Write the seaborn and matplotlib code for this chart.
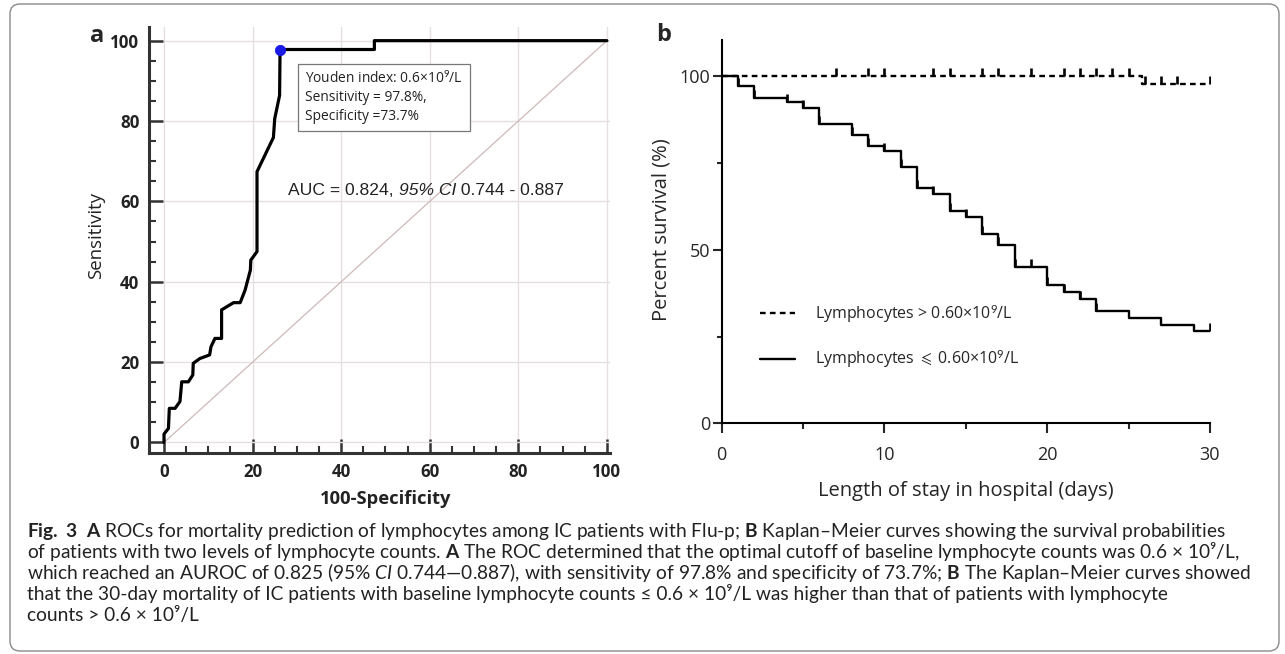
import numpy as np
import pandas as pd
import matplotlib
matplotlib.use("Agg")
import matplotlib.pyplot as plt
import seaborn as sns
from matplotlib.patches import FancyBboxPatch
from matplotlib.transforms import IdentityTransform
from matplotlib.ticker import MultipleLocator

# ---------------- data ----------------
# panel a: ROC curve, x = 100 - specificity, y = sensitivity
roc_fpr = [0, 0, 1.0, 1.2, 2.5, 3.6, 4.0, 5.5, 6.5, 6.6, 8.1, 10.3, 10.6, 11.5,
           13.0, 13.0, 14.5, 15.7, 17.2, 18.3, 19.5, 19.6, 21.0, 21.0, 24.7,
           25.0, 26.1, 26.2, 47.5, 47.5, 100]
roc_tpr = [0, 2.1, 3.5, 8.5, 8.5, 10.2, 15.1, 15.1, 16.8, 19.7, 20.9, 21.8, 23.8,
           25.9, 25.9, 33.0, 34.0, 34.8, 34.8, 37.9, 42.9, 45.4, 47.5, 67.4, 75.9,
           80.6, 86.4, 97.8, 97.8, 100, 100]
youden_fpr = [26.2]
youden_tpr = [97.8]

# panel b: Kaplan-Meier steps (days, % survival)
high_time = [0, 25.8, 30]
high_surv = [100, 97.8, 97.8]
high_censor = [7, 9, 10, 13, 14, 16, 17, 19, 21, 22, 23, 24, 25, 26, 27, 28, 30]

low_time = [0, 1, 2, 4, 5, 6, 8, 9, 10, 11, 12, 13, 14, 15, 16, 17, 18, 20, 21,
            22, 23, 25, 27, 29, 30]
low_surv = [100, 97.2, 93.9, 92.6, 91.0, 86.2, 83.2, 79.9, 78.4, 73.9, 67.8, 66.0,
            61.1, 59.5, 54.7, 51.5, 45.0, 39.8, 37.8, 35.9, 32.3, 30.4, 28.4, 26.6,
            26.6]
low_censor = [1, 2, 4, 5, 6, 8, 9, 10, 11, 12, 13, 14, 15, 16, 17, 18, 19, 20, 21,
              22, 23, 30]

label_high = "Lymphocytes > 0.60×10$^{9}$/L"
label_low = r"Lymphocytes $\leqslant$ 0.60×10$^{9}$/L"

caption_lines = [
    r"$\mathbf{Fig.\ 3}$  $\mathbf{A}$ ROCs for mortality prediction of lymphocytes among IC patients with Flu-p; $\mathbf{B}$ Kaplan–Meier curves showing the survival probabilities",
    r"of patients with two levels of lymphocyte counts. $\mathbf{A}$ The ROC determined that the optimal cutoff of baseline lymphocyte counts was 0.6 × 10⁹/L,",
    r"which reached an AUROC of 0.825 ($\mathit{95\%\ CI}$ 0.744—0.887), with sensitivity of 97.8% and specificity of 73.7%; $\mathbf{B}$ The Kaplan–Meier curves showed",
    "that the 30-day mortality of IC patients with baseline lymphocyte counts ≤ 0.6 × 10⁹/L was higher than that of patients with lymphocyte",
    "counts > 0.6 × 10⁹/L",
]

# ---------------- style ----------------
sns.set_style("white")
plt.rcParams["font.family"] = ["Open Sans", "DejaVu Sans"]
plt.rcParams["mathtext.fontset"] = "custom"
plt.rcParams["mathtext.rm"] = "Lato"
plt.rcParams["mathtext.bf"] = "Lato:bold"
plt.rcParams["mathtext.it"] = "Lato:italic"
plt.rcParams["mathtext.fallback"] = "stixsans"

fig = plt.figure(figsize=(12.85, 6.54), dpi=100)
fig.patch.set_facecolor("white")

# ================= panel a =================
ax1 = fig.add_axes([0.11595, 0.30688, 0.35875, 0.65183])
dark = "#333333"
ax1.plot([0, 100], [0, 100], color="#cdb9b9", lw=0.9, zorder=1)
roc_df = pd.DataFrame({"fpr": roc_fpr, "tpr": roc_tpr})
sns.lineplot(data=roc_df, x="fpr", y="tpr", sort=False, estimator=None,
             color="black", lw=2.3, ax=ax1, zorder=3)
sns.scatterplot(x=youden_fpr, y=youden_tpr, color="#1a1ae6", s=55, edgecolor="#1a1ae6",
                ax=ax1, zorder=4)

ax1.set_xlim(-3.39, 100.7)
ax1.set_ylim(-2.69, 103.4)
ax1.xaxis.set_major_locator(MultipleLocator(20))
ax1.xaxis.set_minor_locator(MultipleLocator(5))
ax1.yaxis.set_major_locator(MultipleLocator(20))
ax1.yaxis.set_minor_locator(MultipleLocator(5))
ax1.grid(True, which="major", color="#e6dfdf", lw=1.0)
ax1.set_axisbelow(True)
for s in ["top", "right"]:
    ax1.spines[s].set_visible(False)
for s in ["left", "bottom"]:
    ax1.spines[s].set_color(dark)
    ax1.spines[s].set_linewidth(2.2)
ax1.tick_params(which="major", direction="in", length=10, width=1.8, color=dark,
                left=True, bottom=True, pad=7)
ax1.tick_params(which="minor", direction="in", length=5, width=1.5, color=dark,
                left=True, bottom=True)
for lab in ax1.get_xticklabels() + ax1.get_yticklabels():
    lab.set_fontweight("bold")
    lab.set_fontsize(12.2)
    lab.set_color("#222222")
ax1.set_xlabel("100-Specificity", fontsize=13.2, fontweight="bold", color="#222222")
ax1.set_ylabel("Sensitivity", fontsize=13.4, color="#222222")
ax1.xaxis.set_label_coords(0.514, -0.087)
ax1.yaxis.set_label_coords(-0.095, 0.51)

ax1.text(31.8, 92.4, "Youden index: 0.6×10$^{9}$/L\nSensitivity = 97.8%,\nSpecificity =73.7%",
         ha="left", va="top", fontsize=9.9, linespacing=1.3, color="#222222",
         bbox=dict(boxstyle="square,pad=0.5", fc="white", ec="#777777", lw=0.9),
         zorder=5)

auc_font = ["Liberation Sans", "DejaVu Sans"]
t1 = ax1.text(28.0, 62.6, "AUC = 0.824, ", ha="left", va="center", fontsize=12.6,
              family=auc_font, color="#222222")
t2 = ax1.annotate("95% CI", xy=(1, 0), xycoords=t1, ha="left", va="bottom",
                  fontsize=12.6, family=auc_font, style="italic", color="#222222")
t3 = ax1.annotate(" 0.744 - 0.887", xy=(1, 0), xycoords=t2, ha="left", va="bottom",
                  fontsize=12.6, family=auc_font, color="#222222")

fig.text(97 / 1285, 1 - 36 / 654, "a", fontsize=17, fontweight="bold",
         ha="center", va="center")

# ================= panel b =================
ax2 = fig.add_axes([0.56163, 0.35245, 0.38000, 0.58639])
km_high = pd.DataFrame({"t": high_time, "s": high_surv})
km_low = pd.DataFrame({"t": low_time, "s": low_surv})
sns.lineplot(data=km_high, x="t", y="s", drawstyle="steps-post", estimator=None,
             color="black", lw=1.7, dashes=False, ax=ax2, label=label_high,
             linestyle=(0, (2.4, 1.8)))
sns.lineplot(data=km_low, x="t", y="s", drawstyle="steps-post", estimator=None,
             color="black", lw=1.7, ax=ax2, label=label_low)


def surv_at(times, surv, pts):
    idx = np.searchsorted(times, pts, side="right") - 1
    return np.asarray(surv)[idx]


ax2.plot(high_censor, surv_at(high_time, high_surv, high_censor), linestyle="none",
         marker=2, markersize=5.5, markeredgewidth=1.9, color="black")
ax2.plot(low_censor, surv_at(low_time, low_surv, low_censor), linestyle="none",
         marker=2, markersize=5.5, markeredgewidth=1.9, color="black")

ax2.set_xlim(0, 30)
ax2.set_ylim(0, 110.5)
ax2.set_xticks([0, 10, 20, 30])
ax2.set_yticks([0, 50, 100])
ax2.xaxis.set_minor_locator(MultipleLocator(5))
ax2.yaxis.set_minor_locator(MultipleLocator(25))
for s in ["top", "right"]:
    ax2.spines[s].set_visible(False)
for s in ["left", "bottom"]:
    ax2.spines[s].set_color("black")
    ax2.spines[s].set_linewidth(1.5)
ax2.tick_params(axis="y", which="major", direction="out", length=6.5, width=1.5,
                left=True, pad=1.5, labelsize=13)
ax2.tick_params(axis="y", which="minor", direction="out", length=3.5, width=1.5, left=True)
ax2.tick_params(axis="x", which="major", direction="out", length=7, width=1.5,
                bottom=True, pad=9, labelsize=13)
ax2.tick_params(axis="x", which="minor", direction="out", length=4, width=1.5, bottom=True)
ax2.set_xlabel("Length of stay in hospital (days)", fontsize=14.5)
ax2.set_ylabel("Percent survival (%)", fontsize=14.5)
ax2.xaxis.set_label_coords(0.5, -0.15)
ax2.yaxis.set_label_coords(-0.102, 0.505)

ax2.legend(loc="upper left", bbox_to_anchor=(0.078, 0.313), frameon=False,
           fontsize=11.5, handlelength=2.2, handletextpad=1.25, labelspacing=1.45,
           borderpad=0, borderaxespad=0)

fig.text(664 / 1285, 1 - 35 / 654, "b", fontsize=17, fontweight="bold",
         ha="center", va="center")

# ================= caption: one text per line, fixed baselines =================
cap_font = ["Lato", "DejaVu Sans"]
renderer = fig.canvas.get_renderer()
probe = fig.text(0, 0, caption_lines[0], fontsize=12, family=cap_font)
cap_size = 12 * 1200 / probe.get_window_extent(renderer).width
probe.remove()

baselines = [537, 558, 579, 600, 621]
for line, b in zip(caption_lines, baselines):
    fig.text(27 / 1285, 1 - b / 654, line, fontsize=cap_size, family=cap_font,
             ha="left", va="baseline", color="#222222")

# rounded frame around the whole figure
frame = FancyBboxPatch((10, 3), 1269, 647, boxstyle="round,pad=0,rounding_size=10",
                       transform=IdentityTransform(), fc="none", ec="#8a8a8a", lw=1.0)
fig.patches.append(frame)

fig.savefig("out.png", dpi=100)
